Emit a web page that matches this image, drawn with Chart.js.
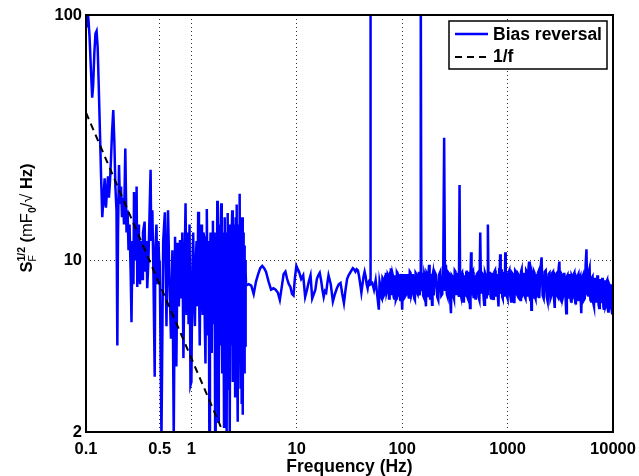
<!DOCTYPE html>
<html>
<head>
<meta charset="utf-8">
<script src="https://cdn.jsdelivr.net/npm/chart.js@4.4.0/dist/chart.umd.min.js"></script>
<style>
html, body { margin: 0; padding: 0; background: #fff; }
#wrap { width: 639px; height: 476px; }
</style>
</head>
<body>
<div id="wrap"><canvas id="psdChart" width="639" height="476"></canvas></div>
<script>
// tick labels
const xTicks = [0.1, 0.5, 1, 10, 100, 1000, 10000];
const yTicks = [2, 10, 100];

// bias reversal spectrum, [frequency Hz, value]
// 0.1 - 0.5 Hz
const lowBand = [
  [0.1,90],[0.1015,100],[0.1035,103],[0.1055,96],[0.108,82],[0.111,62],[0.1145,46],[0.117,52],[0.12,70],[0.123,84],
  [0.126,86],[0.129,74],[0.132,52],[0.136,32],[0.139,22],[0.1427,15],[0.1464,18],[0.1503,21.6],[0.153,17],[0.1546,16.4],
  [0.158,19],[0.1617,22],[0.165,18],[0.1689,21],[0.1727,26],[0.1765,33],[0.1814,41],[0.186,30],[0.19,20],[0.1947,16],
  [0.1983,4.5],[0.2012,13],[0.2057,24.5],[0.2102,17],[0.2149,20],[0.2196,15],[0.2245,18],[0.2294,14],[0.236,28.6],[0.2424,13],
  [0.248,16],[0.2532,11],[0.2588,14],[0.2652,9],[0.2702,5.6],[0.276,12],[0.282,8],[0.2854,19],[0.2917,10],[0.2982,15],
  [0.302,20],[0.3067,7.8],[0.3115,14],[0.318,11],[0.3254,8],[0.333,12],[0.342,8.4],[0.347,13],[0.36,14.4],[0.366,9],
  [0.375,12],[0.381,7.7],[0.391,10],[0.4,15],[0.41,23.4],[0.416,12],[0.426,16],[0.436,9],[0.4485,3.36],[0.455,11],
  [0.466,14],[0.476,8],[0.487,12],[0.498,9]
];
// 0.5 - 3.3 Hz
const midBand = [
  [0.50,10],[0.52,1.9],[0.54,12],[0.56,15.7],[0.58,5.4],[0.60,16],[0.62,8],[0.64,4.8],[0.66,11],[0.68,1.9],
  [0.70,12.5],[0.72,3.7],[0.74,11.8],[0.76,6.5],[0.78,12.1],[0.80,7],[0.82,13],[0.84,4.0],[0.86,9],[0.88,17.1],
  [0.90,6],[0.92,13],[0.94,5.5],[0.96,14],[0.98,3.1],
  [1.00,3.2],[1.02,9],[1.04,13],[1.06,7],[1.08,5.4],[1.10,10],[1.12,12],[1.14,6.5],[1.16,15.8],[1.18,8],
  [1.20,4.5],[1.22,11],[1.24,14],[1.26,7.5],[1.28,6],[1.30,13],[1.32,12.5],[1.34,5.5],[1.36,3.8],[1.38,11],
  [1.40,16.2],[1.42,8],[1.44,5],[1.46,12],[1.48,1.9],[1.50,10],[1.52,13],[1.54,6],[1.56,4.2],[1.58,12.5],
  [1.60,14.5],[1.62,5.5],[1.64,6],[1.66,13],[1.68,1.9],[1.70,11],[1.72,12],[1.74,4.8],[1.76,17.5],[1.78,6],
  [1.80,2.2],[1.82,12],[1.84,14],[1.86,4.5],[1.88,5],[1.90,14.5],[1.92,17.1],[1.94,5],[1.96,3.5],[1.98,12],
  [2.00,13],[2.02,5.5],[2.04,2.1],[2.06,14],[2.08,15],[2.10,4.6],[2.12,4],[2.14,13],[2.16,1.9],[2.18,12],
  [2.20,15.6],[2.22,5],[2.24,3],[2.26,12.5],[2.28,14],[2.30,1.9],[2.32,1.9],[2.34,11],[2.36,13.5],[2.38,5.5],
  [2.40,4.5],[2.42,13],[2.44,16],[2.46,5],[2.48,3.2],[2.50,14],[2.52,12],[2.54,4.5],[2.56,5],[2.58,13],
  [2.60,2.8],[2.62,12],[2.64,15],[2.66,5.2],[2.68,16.9],[2.70,4],[2.72,3.8],[2.74,13],[2.76,2.2],[2.78,11],
  [2.80,14],[2.82,4.5],[2.84,4],[2.86,12],[2.88,18.7],[2.90,5],[2.92,3],[2.94,14],[2.96,12.5],[2.98,4.2],
  [3.00,2.6],[3.02,13],[3.04,15],[3.06,4.8],[3.08,2.35],[3.10,12],[3.12,13],[3.14,5.5],[3.16,3.5],[3.18,11.5],
  [3.20,11],[3.22,4.6],[3.24,4.5],[3.26,10],[3.28,9]
];
// 3.3 - 10 Hz
const smoothBand = [
  [3.3,7.9],[3.5,8.0],[3.7,7.9],[3.9,7.3],[4.1,8.2],[4.3,8.8],[4.5,9.3],[4.7,9.5],[4.9,9.3],[5.1,9.0],
  [5.4,8.2],[5.7,7.6],[6.0,7.7],[6.3,7.6],[6.6,7.4],[6.9,6.9],[7.2,7.8],[7.5,8.8],[7.8,9.0],[8.1,8.4],
  [8.4,8.0],[8.7,7.8],[9.0,7.3],[9.3,7.2],[9.6,8.5],[9.9,9.5]
];
// 10 - 60 Hz
const lineBand = [
  [10,9.4],[10.5,9.0],[11,8.4],[11.5,8.7],[12,7.1],[12.5,7.6],[13,8.2],[13.5,8.7],[14,7.0],[14.5,7.3],
  [15,7.6],[15.5,8.4],[16,8.7],[16.5,8.9],[17,8.3],[17.5,7.6],[18,7.1],[18.5,7.5],[19,7.4],[19.5,8.1],
  [20,8.7],[21,8.0],[22,6.8],[23,7.3],[24,7.7],[25,8.0],[26,8.1],[27,7.3],[28,6.7],[29,7.6],
  [30,8.4],[31,8.7],[32,8.9],[33,9.1],[34,9.3],[35,9.2],[36,9.0],[37,9.2],[38,9.1],[39,8.6],
  [40,8.0],[41,7.4],[42,8.0],[43,8.6],[44,9.0],[45,8.6],[46,8.0],[47,7.7],[48,8.2],[49.8,8.4],
  [50,150],[50.2,8.0],[52,8.1],[54,7.6],[56,8.3],[58,7.2]
];
// 60 Hz - 10 kHz
const noiseBand = [
  [60,6.3],[61,8.2],[62,7.9],[63,7.1],[64,7.0],[65,8.5],[66,8.4],[67,7.2],[68,7.3],[69,8.6],
  [70,8.9],[71,7.4],[72,7.6],[73,8.8],[74,8.7],[75,7.0],[76,7.4],[77,8.9],[78,9.3],[79,7.3],
  [80,7.6],[81,8.8],[82,8.6],[83,7.1],[84,7.0],[85,8.7],[86,8.3],[87,6.9],[88,7.0],[89,8.9],
  [90,8.8],[91,7.2],[92,7.2],[93,8.6],[94,8.5],[95,7.1],[96,6.9],[97,8.8],[98,8.6],[99,7.0],
  [100,6.3],[102,8.7],[104,8.8],[106,7.1],[108,7.2],[110,8.7],[112,8.7],[114,7.3],[116,7.0],[118,9.0],
  [120,8.9],[122,7.2],[124,7.4],[126,8.8],[128,8.4],[130,7.0],[132,6.9],[134,8.9],[136,8.8],[138,7.4],
  [140,7.3],[142,8.7],[144,9.0],[146,7.2],[148,7.6],[150,150],[152,7.8],[154,8.6],[156,8.9],[158,7.2],
  [160,7.1],[162,8.8],[164,8.6],[166,7.0],[168,6.5],[170,8.9],[172,8.8],[174,7.1],[176,7.3],[178,9.0],
  [180,9.6],[182,7.4],[184,7.0],[186,8.8],[188,8.5],[190,7.2],[192,6.6],[194,8.7],[196,8.9],[198,7.3],
  [200,7.2],[205,8.9],[210,8.7],[215,7.1],[220,6.9],[225,8.8],[230,9.0],[235,7.2],[240,7.3],[245,8.9],
  [250,31.6],[255,7.6],[260,9.6],[265,7.3],[270,7.1],[275,8.9],[280,8.8],[285,7.0],[290,6.1],[295,8.7],
  [300,8.6],[305,7.2],[310,7.0],[315,9.1],[320,9.0],[325,7.3],[330,7.4],[335,8.9],[340,8.5],[345,7.1],
  [350,20.3],[355,7.4],[360,7.2],[365,8.8],[370,8.9],[375,7.0],[380,6.8],[385,8.7],[390,8.4],[395,7.2],
  [400,7.3],[405,8.9],[410,9.1],[415,7.1],[420,7.0],[425,9.0],[430,8.7],[435,7.2],[440,6.4],[445,8.8],
  [450,10.8],[455,7.2],[460,7.5],[465,8.9],[470,9.0],[475,7.1],[480,7.1],[485,8.7],[490,8.6],[495,7.0],
  [500,7.2],[510,8.8],[520,8.9],[530,7.1],[540,6.9],[550,13.0],[560,7.4],[570,8.9],[580,8.8],[590,7.2],
  [600,6.6],[610,8.9],[620,8.7],[630,7.0],[640,7.3],[650,14.0],[660,7.6],[670,8.8],[680,9.0],[690,7.1],
  [700,7.0],[710,8.9],[720,8.6],[730,7.3],[740,6.9],[750,9.0],[760,9.1],[770,7.2],[780,7.2],[790,8.8],
  [800,8.4],[810,7.0],[820,6.5],[830,8.9],[840,8.8],[850,10.6],[860,7.3],[870,9.0],[880,9.2],[890,7.1],
  [900,7.0],[910,9.0],[920,8.7],[930,7.2],[940,7.4],[950,10.8],[960,7.6],[970,8.9],[980,8.5],[990,7.1],
  [1000,7.0],[1020,8.9],[1040,9.1],[1060,7.2],[1080,6.8],[1100,8.9],[1120,8.8],[1140,7.1],[1160,6.7],[1180,9.1],
  [1200,9.0],[1220,7.3],[1240,7.2],[1260,8.8],[1280,8.7],[1300,7.0],[1320,6.9],[1340,9.0],[1360,9.2],[1380,7.2],
  [1400,7.3],[1420,8.9],[1440,8.6],[1460,7.1],[1480,7.0],[1500,9.1],[1520,9.0],[1540,7.2],[1560,7.4],[1580,9.4],
  [1600,9.9],[1620,7.1],[1640,6.9],[1660,8.8],[1680,6.3],[1700,8.9],[1720,8.7],[1740,7.0],[1760,7.2],[1780,9.0],
  [1800,8.9],[1820,7.1],[1840,7.0],[1860,8.8],[1880,8.6],[1900,7.2],[1920,7.3],[1940,8.9],[1960,9.0],[1980,7.1],
  [2000,7.1],[2050,9.2],[2100,10.3],[2150,7.2],[2200,7.0],[2250,9.0],[2300,9.1],[2350,7.1],[2400,6.8],[2450,8.8],
  [2500,8.9],[2550,7.0],[2600,7.2],[2650,8.9],[2700,9.0],[2750,7.1],[2800,6.4],[2850,8.7],[2900,8.8],[2950,7.2],
  [3000,7.1],[3050,9.3],[3100,9.9],[3150,7.0],[3200,6.9],[3250,8.8],[3300,8.7],[3350,7.1],[3400,7.3],[3450,8.9],
  [3500,8.9],[3550,7.0],[3600,6.1],[3650,8.6],[3700,8.7],[3750,7.2],[3800,7.0],[3850,8.8],[3900,8.8],[3950,7.0],
  [4000,6.8],[4050,8.7],[4100,8.6],[4150,7.1],[4200,7.2],[4250,8.8],[4300,8.9],[4350,7.0],[4400,6.7],[4450,8.6],
  [4500,8.5],[4550,7.0],[4600,7.1],[4650,8.7],[4700,8.8],[4750,6.9],[4800,6.9],[4850,8.5],[4900,8.6],[4950,6.8],
  [5000,6.1],[5100,8.5],[5200,8.7],[5300,6.9],[5400,7.0],[5500,9.6],[5600,11.1],[5700,7.3],[5800,7.2],[5900,9.0],
  [6000,9.3],[6100,6.9],[6200,6.8],[6300,8.5],[6400,8.6],[6500,6.7],[6600,6.5],[6700,8.4],[6800,8.4],[6900,6.8],
  [7000,6.9],[7100,8.6],[7200,8.7],[7300,6.6],[7400,6.4],[7500,8.3],[7600,8.3],[7700,6.7],[7800,6.7],[7900,8.4],
  [8000,8.5],[8100,6.5],[8200,6.3],[8300,8.2],[8400,8.2],[8500,6.5],[8600,6.6],[8700,8.2],[8800,8.3],[8900,6.4],
  [9000,6.2],[9100,8.1],[9200,8.0],[9300,6.5],[9400,6.4],[9500,7.9],[9600,7.9],[9700,6.3],[9800,6.1],[9900,7.6],
  [10000,6.4]
];
// 1/f reference line
const oneOverF = [[0.1, 40], [1.9, 2.1]];

const FONT = '"Liberation Sans", Arial, Helvetica, sans-serif';
const toXY = arr => arr.map(p => ({ x: p[0], y: p[1] }));
const biasData = toXY(lowBand.concat(midBand, smoothBand, lineBand, noiseBand));

// frame, legend, axis titles
const decorPlugin = {
  id: 'decor',
  afterDatasetsDraw(chart) {
    const ctx = chart.ctx;
    const a = chart.chartArea;
    ctx.save();
    ctx.strokeStyle = '#000';
    ctx.lineWidth = 2;
    ctx.strokeRect(a.left, a.top, a.right - a.left, a.bottom - a.top);

    // legend box
    const lx = 449, ly = 21, lw = 158, lh = 48;
    ctx.fillStyle = '#fff';
    ctx.fillRect(lx, ly, lw, lh);
    ctx.lineWidth = 1.5;
    ctx.strokeRect(lx, ly, lw, lh);
    ctx.beginPath();
    ctx.strokeStyle = '#0000ff';
    ctx.lineWidth = 2.5;
    ctx.moveTo(455, 34); ctx.lineTo(488, 34);
    ctx.stroke();
    ctx.beginPath();
    ctx.strokeStyle = '#000';
    ctx.lineWidth = 2;
    ctx.setLineDash([7, 5]);
    ctx.moveTo(455, 57); ctx.lineTo(491, 57);
    ctx.stroke();
    ctx.setLineDash([]);
    ctx.fillStyle = '#000';
    ctx.font = 'bold 17.5px ' + FONT;
    ctx.textBaseline = 'middle';
    ctx.textAlign = 'left';
    ctx.fillText('Bias reversal', 493, 35);
    ctx.fillText('1/f', 493, 57);

    // x title
    ctx.textAlign = 'center';
    ctx.textBaseline = 'alphabetic';
    ctx.font = 'bold 17.5px ' + FONT;
    ctx.fillText('Frequency (Hz)', (a.left + a.right) / 2, 472);

    // y title, rotated, with sub/superscripts
    const big = 16.5, small = 10.5;
    const parts = [
      { t: 'S', f: 'bold ' + big + 'px ' + FONT, dy: 0 },
      { t: '1/2', f: 'bold ' + small + 'px ' + FONT, dy: -7, under: { t: 'F', f: small + 'px ' + FONT, dy: 4 } },
      { t: ' (', f: 'bold ' + big + 'px ' + FONT, dy: 0 },
      { t: 'mF', f: big + 'px ' + FONT, dy: 0 },
      { t: '0', f: 'bold ' + small + 'px ' + FONT, dy: 4 },
      { t: '/\u221A', f: big + 'px ' + FONT, dy: 0 },
      { t: ' Hz)', f: 'bold ' + big + 'px ' + FONT, dy: 0 }
    ];
    let total = 0;
    parts.forEach(p => {
      ctx.font = p.f;
      let w = ctx.measureText(p.t).width;
      if (p.under) { ctx.font = p.under.f; w = Math.max(w, ctx.measureText(p.under.t).width); }
      p.w = w;
      total += w;
    });
    ctx.translate(32, 218);
    ctx.rotate(-Math.PI / 2);
    let cx = -total / 2;
    ctx.textAlign = 'left';
    parts.forEach(p => {
      ctx.font = p.f;
      ctx.fillText(p.t, cx, p.dy);
      if (p.under) { ctx.font = p.under.f; ctx.fillText(p.under.t, cx, p.under.dy); }
      cx += p.w;
    });
    ctx.restore();
  }
};

const gridColor = (edge) => (c) => (c.tick && edge.includes(c.tick.value)) ? 'rgba(0,0,0,0)' : '#333';

new Chart(document.getElementById('psdChart').getContext('2d'), {
  type: 'line',
  data: {
    datasets: [
      { label: '1/f', data: toXY(oneOverF), borderColor: '#000', borderWidth: 2, borderDash: [7, 5], pointRadius: 0, order: 1 },
      { label: 'Bias reversal', data: biasData, borderColor: '#0000ff', borderWidth: 2.5, pointRadius: 0, tension: 0, order: 2 }
    ]
  },
  options: {
    responsive: false,
    animation: false,
    events: [],
    layout: { padding: { top: 15, right: 26, left: 0, bottom: 0 } },
    plugins: { legend: { display: false }, tooltip: { enabled: false } },
    scales: {
      x: {
        type: 'logarithmic',
        min: 0.1, max: 10000,
        afterBuildTicks: s => { s.ticks = xTicks.map(v => ({ value: v })); },
        afterFit: s => { s.height = 44; s.paddingLeft = 0; s.paddingRight = 0; },
        ticks: { autoSkip: false, maxRotation: 0, padding: 8, color: '#000',
                 font: { family: FONT, size: 16.5, weight: 'bold' }, callback: v => String(v) },
        grid: { color: gridColor([0.1, 10000]), lineWidth: 1, drawTicks: false },
        border: { display: false, dash: [1, 3] }
      },
      y: {
        type: 'logarithmic',
        min: 2, max: 100,
        afterBuildTicks: s => { s.ticks = yTicks.map(v => ({ value: v })); },
        afterFit: s => { s.width = 86; s.paddingTop = 0; s.paddingBottom = 0; },
        ticks: { autoSkip: false, padding: 4, color: '#000',
                 font: { family: FONT, size: 16.5, weight: 'bold' }, callback: v => String(v) },
        grid: { color: gridColor([2, 100]), lineWidth: 1, drawTicks: false },
        border: { display: false, dash: [1, 3] }
      }
    }
  },
  plugins: [decorPlugin]
});
</script>
</body>
</html>
